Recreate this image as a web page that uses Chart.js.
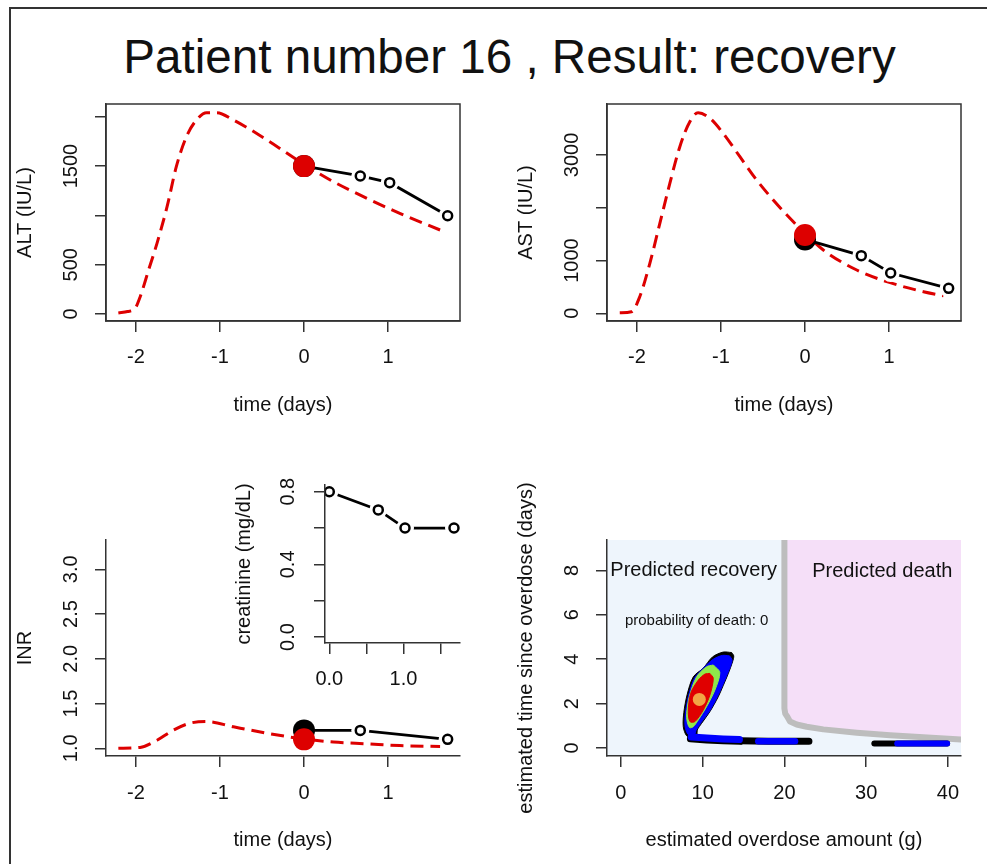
<!DOCTYPE html>
<html>
<head>
<meta charset="utf-8">
<script src="https://cdn.jsdelivr.net/npm/chart.js@4.4.0/dist/chart.umd.min.js"></script>
<style>
  html { margin: 0; padding: 0; overflow: hidden; background: #fff; }
  body { margin: 0; padding: 0; width: 987px; height: 864px; position: relative; overflow: hidden; background: #fff; font-family: "Liberation Sans", Arial, sans-serif; }
  .rule { position: absolute; background: #333; }
  #title { position: absolute; left: 0; top: 33px; width: 1019px; text-align: center; font-size: 47.6px; line-height: 47px; color: #111; white-space: nowrap; }
  canvas { position: absolute; left: 0; top: 0; }
</style>
</head>
<body>
<div class="rule" style="left:9px; top:7px; width:978px; height:2px;"></div>
<div class="rule" style="left:9px; top:7px; width:2px; height:857px;"></div>
<div id="title">Patient number 16 , Result: recovery</div>
<canvas id="altChart" width="987" height="864"></canvas>
<canvas id="astChart" width="987" height="864"></canvas>
<canvas id="inrChart" width="987" height="864"></canvas>
<canvas id="doseChart" width="987" height="864"></canvas>
<canvas id="creatChart" width="987" height="864"></canvas>
<script>
// ---- data ----
const timeTicks = [-2, -1, 0, 1];
const timeTickLabels = ['-2', '-1', '0', '1'];

const obsT = [0, 0.67, 1.02, 1.71];

const altModelT = [-2.21, -2.1, -2.01, -1.95, -1.85, -1.75, -1.63, -1.52, -1.4, -1.28, -1.16, -1.04, -0.84, -0.44, -0.05, 0.35, 0.75, 1.14, 1.62];
const altModel = [10, 25, 58, 175, 446, 717, 1088, 1494, 1798, 1968, 2042, 2042, 1968, 1765, 1545, 1342, 1173, 1021, 852];
const altObs = [1500, 1400, 1332, 997];
const altNow = 1500;
const altTicks = [0, 500, 1000, 1500, 2000];
const altTickLabels = ['0', '500', '', '1500', ''];

const astModelT = [-2.205, -2.066, -1.967, -1.847, -1.728, -1.609, -1.49, -1.371, -1.272, -1.132, -0.974, -0.775, -0.576, -0.378, -0.179, 0, 0.218, 0.616, 1.013, 1.41, 1.648];
const astModel = [11, 30, 315, 947, 1705, 2463, 3157, 3630, 3801, 3695, 3410, 2967, 2526, 2147, 1800, 1516, 1199, 820, 580, 409, 333];
const astObs = [1400, 1092, 763, 473];
const astNow = 1483;
const astTicks = [0, 1000, 2000, 3000];
const astTickLabels = ['0', '1000', '', '3000'];

const inrModelT = [-2.21, -1.95, -1.75, -1.56, -1.36, -1.16, -0.84, -0.45, -0.05, 0.35, 0.75, 1.14, 1.62];
const inrModel = [1.0, 1.01, 1.09, 1.2, 1.28, 1.3, 1.24, 1.17, 1.11, 1.07, 1.05, 1.03, 1.02];
const inrObsT = [0, 0.67, 1.71];
const inrObs = [1.2, 1.2, 1.1];
const inrNow = 1.1;
const inrTicks = [1, 1.5, 2, 2.5, 3];
const inrTickLabels = ['1.0', '1.5', '2.0', '2.5', '3.0'];

const creatT = [0, 0.66, 1.02, 1.68];
const creat = [0.8, 0.7, 0.6, 0.6];
const creatXTicks = [0, 0.5, 1, 1.5];
const creatXLabels = ['0.0', '', '1.0', ''];
const creatYTicks = [0, 0.2, 0.4, 0.6, 0.8];
const creatYLabels = ['0.0', '', '0.4', '', '0.8'];

const doseTicks = [0, 10, 20, 30, 40];
const doseTickLabels = ['0', '10', '20', '30', '40'];
const sinceTicks = [0, 2, 4, 6, 8];
const sinceTickLabels = ['0', '2', '4', '6', '8'];

// death / recovery boundary (amount g, time days)
const boundaryX = [20, 20, 20.1, 20.36, 20.69, 21.5, 22.73, 24.76, 28.85, 32.93, 37.0, 42];
const boundaryY = [9.6, 1.78, 1.55, 1.41, 1.19, 1.06, 0.96, 0.84, 0.69, 0.57, 0.48, 0.38];

// posterior density levels
const blobBlack = [[13.55, 4.3], [13.8, 4.15], [13.67, 3.9], [13.14, 3.36], [12.5, 2.8], [11.91, 2.31], [10.89, 1.64], [9.87, 1.11], [9.34, 0.81], [9.3, 0.6], [8.85, 0.4], [8.04, 0.55], [7.63, 0.96], [7.7, 1.6], [8.1, 2.4], [8.85, 3.2], [10.08, 3.6], [11.2, 4.1], [12.5, 4.32], [13.55, 4.3]];
const blobBlue = [[13.3, 4.15], [13.6, 3.95], [13.05, 3.36], [11.8, 2.31], [10.8, 1.64], [9.75, 1.12], [9.2, 0.8], [8.9, 0.5], [8.2, 0.62], [7.85, 0.98], [7.9, 1.6], [8.3, 2.4], [9.0, 3.15], [10.15, 3.62], [11.3, 4.0], [12.4, 4.17], [13.3, 4.15]];
const blobGreen = [[11.3, 3.74], [12.1, 3.4], [11.5, 2.61], [10.48, 1.86], [9.46, 1.26], [8.85, 0.96], [8.4, 0.92], [8.1, 1.2], [8.04, 1.56], [8.36, 2.31], [9.26, 3.21], [10.48, 3.66], [11.3, 3.74]];
const blobRed = [[10.89, 3.36], [11.3, 3.14], [10.89, 2.39], [10.08, 1.71], [9.06, 1.19], [8.45, 1.19], [8.24, 1.64], [8.53, 2.46], [9.47, 3.06], [10.28, 3.33], [10.89, 3.36]];
const blobPeak = [[9.59, 2.19]];
const armBlackA = [[8.5, 0.42], [10.5, 0.36], [12.5, 0.33], [14.6, 0.3]];
const armBlackB = [[14.6, 0.33], [18, 0.3], [23, 0.3]];
const armBlueA = [[8.6, 0.5], [10.5, 0.45], [12.5, 0.41], [14.5, 0.38]];
const armBlueB = [[16.8, 0.31], [21.3, 0.31]];
const arm2Black = [[31, 0.2], [39.9, 0.2]];
const arm2Blue = [[33.8, 0.2], [39.9, 0.2]];

// ---- drawing ----
const AXIS = '#333';
const RED = '#dd0000';
const FONT = '"Liberation Sans", Arial, Helvetica, sans-serif';
const W_Y = 90;

Chart.defaults.font.family = FONT;
Chart.defaults.font.size = 20;
Chart.defaults.color = '#111';

function pts(xs, ys) { return xs.map((x, i) => ({ x, y: ys[i] })); }
function pairs(arr) { return arr.map(p => ({ x: p[0], y: p[1] })); }

function axis(range, ticks, labels, pad, horizontal, size) {
  return {
    type: 'linear', min: range[0], max: range[1], bounds: 'data',
    afterBuildTicks: s => { s.ticks = ticks.map(v => ({ value: v })); },
    afterFit: s => { if (horizontal) s.height = size; else s.width = size; },
    grid: { display: true, drawOnChartArea: false, drawTicks: true, tickLength: 11, color: AXIS, lineWidth: 1.5 },
    border: { display: true, color: AXIS, width: 1.5, z: 1 },
    ticks: horizontal
      ? { autoSkip: false, minRotation: 0, maxRotation: 0, padding: pad, color: '#111', callback: (v, i) => labels[i] }
      : { autoSkip: false, minRotation: 90, maxRotation: 90, crossAlign: 'center', padding: pad, color: '#111', callback: (v, i) => labels[i] }
  };
}

function framePlugin(f) {
  return {
    id: 'rframe',
    beforeDraw(chart) {
      if (!f.bg) return;
      const a = chart.chartArea, ctx = chart.ctx;
      ctx.save();
      ctx.fillStyle = f.bg;
      ctx.fillRect(a.left, a.top, a.right - a.left, a.bottom - a.top);
      ctx.restore();
    },
    afterDraw(chart) {
      const a = chart.chartArea, ctx = chart.ctx;
      ctx.save();
      if (f.box) {
        ctx.strokeStyle = AXIS;
        ctx.lineWidth = 1.5;
        ctx.strokeRect(a.left, a.top, a.right - a.left, a.bottom - a.top);
      }
      ctx.fillStyle = '#111';
      ctx.font = '20px ' + FONT;
      ctx.textAlign = 'center';
      ctx.textBaseline = 'middle';
      if (f.xTitle) ctx.fillText(f.xTitle, (a.left + a.right) / 2, a.bottom + 84);
      if (f.yTitle) {
        ctx.save();
        ctx.translate(a.left - 81, (a.top + a.bottom) / 2);
        ctx.rotate(-Math.PI / 2);
        ctx.fillText(f.yTitle, 0, 0);
        ctx.restore();
      }
      ctx.textBaseline = 'alphabetic';
      (f.notes || []).forEach(n => {
        ctx.font = n.size + 'px ' + FONT;
        ctx.fillText(n.text, chart.scales.x.getPixelForValue(n.x), chart.scales.y.getPixelForValue(n.y));
      });
      ctx.restore();
    }
  };
}

function makeChart(id, area, H, scales, datasets, frame) {
  datasets.forEach((d, i) => { d.order = datasets.length - i; });
  return new Chart(document.getElementById(id), {
    type: 'line',
    data: { datasets },
    options: {
      responsive: false,
      animation: false,
      events: [],
      layout: { padding: { left: area.l - W_Y, top: area.t, right: 987 - area.r, bottom: 864 - area.b - H } },
      scales,
      plugins: { legend: { display: false }, tooltip: { enabled: false } },
      elements: { point: { radius: 0 } }
    },
    plugins: [framePlugin(frame)]
  });
}

function timeDatasets(modelT, model, oT, obs, now) {
  return [
    { data: pts(modelT, model), borderColor: RED, borderWidth: 3, borderDash: [13, 7], cubicInterpolationMode: 'monotone', pointRadius: 0 },
    { data: pts(oT, obs), borderColor: '#000', borderWidth: 2.8, pointRadius: 0 },
    { data: pts(oT.slice(1), obs.slice(1)), showLine: false, borderWidth: 0, pointRadius: 9, pointBackgroundColor: '#fff', pointBorderWidth: 0 },
    { data: pts(oT.slice(1), obs.slice(1)), showLine: false, borderWidth: 0, pointRadius: 4.5, pointBackgroundColor: '#fff', pointBorderColor: '#000', pointBorderWidth: 2.5 },
    { data: pts([oT[0]], [obs[0]]), showLine: false, borderWidth: 0, pointRadius: 11, pointBackgroundColor: '#000', pointBorderWidth: 0 },
    { data: pts([0], [now]), showLine: false, borderWidth: 0, pointRadius: 11, pointBackgroundColor: RED, pointBorderWidth: 0 }
  ];
}

const timeRange = [-2.357, 1.857];

// ALT
const altArea = { l: 106, t: 104, r: 460, b: 321 };
makeChart('altChart', altArea, 96, {
  x: axis(timeRange, timeTicks, timeTickLabels, 13, true, 96),
  y: axis([-71, 2130], altTicks, altTickLabels, 1, false, W_Y)
}, timeDatasets(altModelT, altModel, obsT, altObs, altNow), { box: true, xTitle: 'time (days)', yTitle: 'ALT (IU/L)' });

// AST
const astArea = { l: 607, t: 104, r: 961, b: 321 };
makeChart('astChart', astArea, 96, {
  x: axis(timeRange, timeTicks, timeTickLabels, 13, true, 96),
  y: axis([-146, 3966], astTicks, astTickLabels, 1.5, false, W_Y)
}, timeDatasets(astModelT, astModel, obsT, astObs, astNow), { box: true, xTitle: 'time (days)', yTitle: 'AST (IU/L)' });

// INR
const inrArea = { l: 106, t: 540, r: 460, b: 756 };
makeChart('inrChart', inrArea, 96, {
  x: axis(timeRange, timeTicks, timeTickLabels, 14.3, true, 96),
  y: axis([0.914, 3.327], inrTicks, inrTickLabels, 9.4, false, W_Y)
}, timeDatasets(inrModelT, inrModel, inrObsT, inrObs, inrNow), { xTitle: 'time (days)', yTitle: 'INR' });

// creatinine inset
const creatArea = { l: 325, t: 485, r: 460, b: 643 };
makeChart('creatChart', creatArea, 60, {
  x: axis([-0.058, 1.761], creatXTicks, creatXLabels, 13.3, true, 60),
  y: axis([-0.033, 0.837], creatYTicks, creatYLabels, 11.8, false, W_Y)
}, [
  { data: pts(creatT, creat), borderColor: '#000', borderWidth: 2.8, pointRadius: 0 },
  { data: pts(creatT, creat), showLine: false, borderWidth: 0, pointRadius: 9, pointBackgroundColor: '#fff', pointBorderWidth: 0 },
  { data: pts(creatT, creat), showLine: false, borderWidth: 0, pointRadius: 4.5, pointBackgroundColor: '#fff', pointBorderColor: '#000', pointBorderWidth: 2.5 }
], { yTitle: 'creatinine (mg/dL)' });

// overdose amount vs time since overdose
const doseArea = { l: 607, t: 540, r: 961, b: 756 };
function poly(arr, color) {
  return { data: pairs(arr), borderColor: color, borderWidth: 1, backgroundColor: color, fill: 'shape', tension: 0.3, pointRadius: 0 };
}
function stroke(arr, color, w) {
  return { data: pairs(arr), borderColor: color, borderWidth: w, borderCapStyle: 'round', borderJoinStyle: 'round', pointRadius: 0 };
}
makeChart('doseChart', doseArea, 96, {
  x: axis([-1.7, 41.6], doseTicks, doseTickLabels, 14.3, true, 96),
  y: axis([-0.36, 9.37], sinceTicks, sinceTickLabels, 17.7, false, W_Y)
}, [
  { data: pts(boundaryX, boundaryY), borderColor: '#bdbdbd', borderWidth: 6, borderJoinStyle: 'round', backgroundColor: '#f5dff8', fill: 'end', pointRadius: 0 },
  stroke(armBlackA, '#000', 7),
  stroke(armBlackB, '#000', 7),
  stroke(arm2Black, '#000', 6),
  poly(blobBlack, '#000000'),
  poly(blobBlue, '#0000ff'),
  stroke(armBlueA, '#0000ff', 7),
  stroke(armBlueB, '#0000ff', 6.5),
  stroke(arm2Blue, '#0000ff', 6),
  poly(blobGreen, '#8ee84a'),
  poly(blobRed, '#e00000'),
  { data: pairs(blobPeak), showLine: false, borderWidth: 0, pointRadius: 6.5, pointBackgroundColor: '#f2a545', pointBorderWidth: 0 }
], {
  bg: '#eef5fc',
  xTitle: 'estimated overdose amount (g)',
  yTitle: 'estimated time since overdose (days)',
  notes: [
    { text: 'Predicted recovery', x: 8.91, y: 7.75, size: 20 },
    { text: 'Predicted death', x: 31.97, y: 7.69, size: 20 },
    { text: 'probability of death: 0', x: 9.26, y: 5.54, size: 15 }
  ]
});
</script>
</body>
</html>
